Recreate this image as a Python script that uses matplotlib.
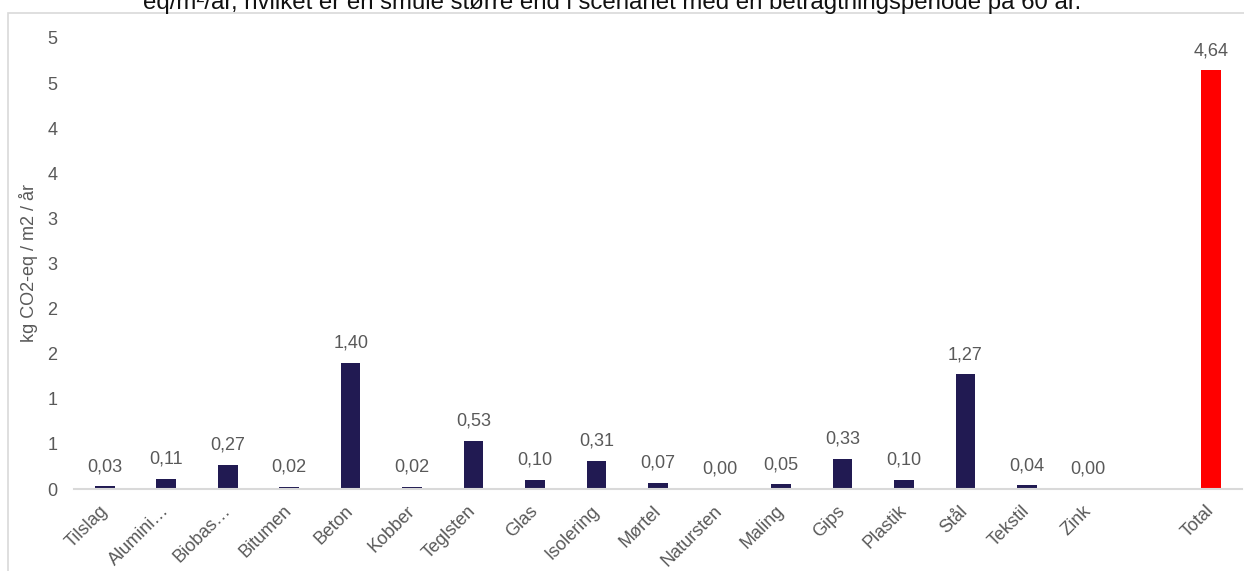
import math
import matplotlib
matplotlib.use("Agg")
import matplotlib.pyplot as plt
import matplotlib.transforms as mtransforms
from matplotlib.patches import Rectangle
from matplotlib.ticker import FuncFormatter, MultipleLocator

# -----------------------------
# Data
# -----------------------------
CATEGORIES = ["Tilslag", "Alumini…", "Biobas…", "Bitumen", "Beton", "Kobber",
              "Teglsten", "Glas", "Isolering", "Mørtel", "Natursten", "Maling",
              "Gips", "Plastik", "Stål", "Tekstil", "Zink", "", "Total"]
VALUES = [0.03, 0.11, 0.27, 0.02, 1.40, 0.02, 0.53, 0.10, 0.31, 0.07,
          0.00, 0.05, 0.33, 0.10, 1.27, 0.04, 0.00, None, 4.64]
TITLE = "eq/m²/år, hvilket er en smule større end i scenariet med en betragtningsperiode på 60 år."
YLABEL = "kg CO2-eq / m2 / år"

NAVY = "#211a52"
RED = "#ff0000"
GREY_TXT = "#595959"
GREY_LINE = "#d9d9d9"

plt.rcParams["font.family"] = ["Liberation Sans", "DejaVu Sans"]

W, H = 1244, 571
fig = plt.figure(figsize=(W / 100, H / 100), dpi=100)

# chart frame (partly outside the picture)
fig.patches.append(Rectangle((8 / W, -0.2), 1.2, 1 - 13 / H + 0.2, transform=fig.transFigure,
                             fill=False, edgecolor=GREY_LINE, linewidth=1.2))

# cut-off caption text above the chart
fig.text(612 / W, 1 - 9 / H, TITLE, ha="center", va="baseline", fontsize=17.3, color="#111111")

ax = fig.add_axes([74 / W, 1 - 489 / H, 1168 / W, 451 / H])

xs = list(range(len(CATEGORIES)))
for x, v in zip(xs, VALUES):
    if v is None:
        continue
    color = RED if CATEGORIES[x] == "Total" else NAVY
    ax.bar(x, v, width=0.32, color=color, zorder=2)
    ax.annotate(f"{v:.2f}".replace(".", ","), (x, v), xytext=(0, 11), textcoords="offset points",
                ha="center", va="baseline", fontsize=13, color=GREY_TXT)

ax.set_xlim(-0.5, len(CATEGORIES) - 0.5)
ax.set_ylim(0, 5)
ax.yaxis.set_major_locator(MultipleLocator(0.5))
ax.yaxis.set_major_formatter(FuncFormatter(lambda v, p: str(int(math.floor(v + 0.5 + 1e-9)))))

ax.set_xticks(xs)
ax.set_xticklabels(CATEGORIES, rotation=45, ha="right", va="center", rotation_mode="anchor")
offset = mtransforms.ScaledTranslation(8 / 100, 0, fig.dpi_scale_trans)
for lbl in ax.get_xticklabels():
    lbl.set_transform(lbl.get_transform() + offset)

ax.tick_params(axis="both", length=0, labelsize=13, labelcolor=GREY_TXT)
ax.tick_params(axis="x", pad=14)
ax.tick_params(axis="y", pad=12)

for s in ["top", "right", "left"]:
    ax.spines[s].set_visible(False)
ax.spines["bottom"].set_color(GREY_LINE)
ax.spines["bottom"].set_linewidth(1.5)

ax.set_ylabel(YLABEL, fontsize=13, color=GREY_TXT, va="center")
ax.yaxis.set_label_coords(-45 / 1168, 0.5)

fig.savefig("out.png", dpi=100)
